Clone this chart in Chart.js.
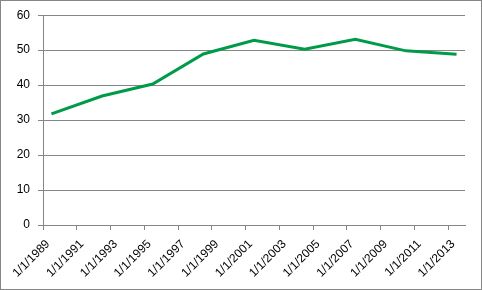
<!DOCTYPE html>
<html>
<head>
<meta charset="utf-8">
<script src="https://cdn.jsdelivr.net/npm/chart.js@4/dist/chart.umd.min.js"></script>
<style>
  html, body { margin: 0; padding: 0; background: #fff; }
  #wrap { width: 482px; height: 290px; position: relative; }
</style>
</head>
<body>
<div id="wrap"><canvas id="chart"></canvas></div>
<script>
const years = [1989, 1992, 1995, 1998, 2001, 2004, 2007, 2010, 2013];
const values = [31.8, 36.9, 40.3, 48.9, 52.8, 50.3, 53.1, 49.8, 48.8];
const tickYears = [1989, 1991, 1993, 1995, 1997, 1999, 2001, 2003, 2005, 2007, 2009, 2011, 2013];
const yTicks = [0, 10, 20, 30, 40, 50, 60];

const axisGray = '#868686';

// outer frame like the Excel chart area border
const frame = {
    id: 'frame',
    afterDraw(chart) {
        const ctx = chart.ctx;
        ctx.save();
        ctx.strokeStyle = axisGray;
        ctx.lineWidth = 1;
        ctx.strokeRect(0.5, 0.5, chart.width - 1, chart.height - 1);
        ctx.restore();
    }
};

const ctx = document.getElementById('chart').getContext('2d');
new Chart(ctx, {
    type: 'line',
    data: {
        datasets: [{
            // each yearly point sits between tick marks (mid-year)
            data: years.map((y, i) => ({ x: y + 0.5, y: values[i] })),
            borderColor: '#009B48',
            borderWidth: 3,
            pointRadius: 0,
            tension: 0,
            fill: false
        }]
    },
    options: {
        responsive: true,
        maintainAspectRatio: false,
        animation: false,
        layout: { padding: { left: 0, right: 17, top: 14, bottom: 0 } },
        plugins: {
            legend: { display: false },
            tooltip: { enabled: false }
        },
        scales: {
            x: {
                type: 'linear',
                min: 1989,
                max: 2014,
                afterBuildTicks: scale => {
                    scale.ticks = tickYears.map(v => ({ value: v }));
                },
                afterFit: scale => { scale.height = 65; },
                grid: {
                    drawOnChartArea: false,
                    drawTicks: true,
                    tickLength: 5,
                    color: axisGray
                },
                border: { display: true, color: axisGray },
                ticks: {
                    autoSkip: false,
                    maxRotation: 45,
                    minRotation: 45,
                    padding: 7,
                    labelOffset: 5,
                    color: '#000',
                    font: { family: 'Liberation Sans, Arial', size: 12 },
                    callback: v => '1/1/' + v
                }
            },
            y: {
                min: 0,
                max: 60,
                afterBuildTicks: scale => {
                    scale.ticks = yTicks.map(v => ({ value: v }));
                },
                afterFit: scale => { scale.width = 43; },
                grid: {
                    color: axisGray,
                    drawTicks: true,
                    tickLength: 5
                },
                border: { display: true, color: axisGray },
                ticks: {
                    padding: 8,
                    color: '#000',
                    font: { family: 'Liberation Sans, Arial', size: 12 }
                }
            }
        }
    },
    plugins: [frame]
});
</script>
</body>
</html>
